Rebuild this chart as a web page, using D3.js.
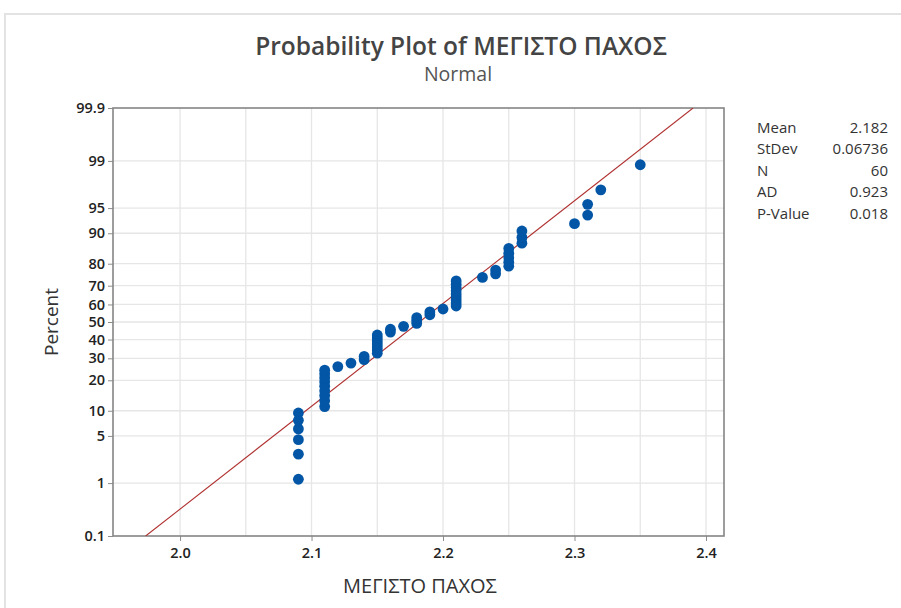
<!DOCTYPE html>
<html>
<head>
<meta charset="utf-8">
<script src="https://cdn.jsdelivr.net/npm/d3@7"></script>
<style>
  html, body { margin: 0; padding: 0; background: #fff; }
  svg { display: block; font-family: "Open Sans", "Noto Sans", sans-serif; }
</style>
</head>
<body>
<svg id="chart" width="901" height="608"></svg>
<script>
// Observed values (ΜΕΓΙΣΤΟ ΠΑΧΟΣ) and how many times each occurs
const values = [2.09, 2.11, 2.12, 2.13, 2.14, 2.15, 2.16, 2.17, 2.18, 2.19,
                2.20, 2.21, 2.23, 2.24, 2.25, 2.26, 2.30, 2.31, 2.32, 2.35];
const counts = [6, 9, 1, 1, 2, 7, 2, 1, 3, 2,
                1, 9, 1, 2, 5, 3, 1, 2, 1, 1];

// Axis ticks
const percentTicks = [0.1, 1, 5, 10, 20, 30, 40, 50, 60, 70, 80, 90, 95, 99, 99.9];
const xTicks = [2.0, 2.1, 2.2, 2.3, 2.4];
const xGrid = [2.0, 2.05, 2.1, 2.15, 2.2, 2.25, 2.3, 2.35, 2.4];

// Summary table
const statNames = ["Mean", "StDev", "N", "AD", "P-Value"];
const statValues = ["2.182", "0.06736", "60", "0.923", "0.018"];
const mean = 2.182, stdev = 0.06736;

// Inverse standard normal CDF (Acklam's rational approximation)
function probit(p) {
  const a = [-3.969683028665376e+01, 2.209460984245205e+02, -2.759285104469687e+02,
             1.383577518672690e+02, -3.066479806614716e+01, 2.506628277459239e+00];
  const b = [-5.447609879822406e+01, 1.615858368580409e+02, -1.556989798598866e+02,
             6.680131188771972e+01, -1.328068155288572e+01];
  const c = [-7.784894002430293e-03, -3.223964580411365e-01, -2.400758277161838e+00,
             -2.549732539343734e+00, 4.374664141464968e+00, 2.938163982698783e+00];
  const d = [7.784695709041462e-03, 3.224671290700398e-01, 2.445134137142996e+00,
             3.754408661907416e+00];
  const pl = 0.02425;
  let q, r;
  if (p < pl) {
    q = Math.sqrt(-2 * Math.log(p));
    return (((((c[0]*q+c[1])*q+c[2])*q+c[3])*q+c[4])*q+c[5]) /
           ((((d[0]*q+d[1])*q+d[2])*q+d[3])*q+1);
  }
  if (p > 1 - pl) {
    q = Math.sqrt(-2 * Math.log(1 - p));
    return -(((((c[0]*q+c[1])*q+c[2])*q+c[3])*q+c[4])*q+c[5]) /
            ((((d[0]*q+d[1])*q+d[2])*q+d[3])*q+1);
  }
  q = p - 0.5; r = q * q;
  return (((((a[0]*r+a[1])*r+a[2])*r+a[3])*r+a[4])*r+a[5])*q /
         (((((b[0]*r+b[1])*r+b[2])*r+b[3])*r+b[4])*r+1);
}

// Expand to individual observations, ranked, with median-rank plotting positions
const obs = [];
values.forEach((v, i) => { for (let k = 0; k < counts[i]; k++) obs.push(v); });
obs.sort(d3.ascending);
const n = obs.length;
const points = obs.map((v, i) => ({ x: v, z: probit((i + 1 - 0.3) / (n + 0.4)) }));

const svg = d3.select("#chart");
const plot = { left: 113, top: 108, right: 724, bottom: 536 };

const x = d3.scaleLinear().domain([1.949, 2.4137]).range([plot.left, plot.right]);
const y = d3.scaleLinear().domain([probit(0.001), probit(0.999)]).range([plot.bottom, plot.top]);

// Outer panel border
svg.append("path")
  .attr("d", "M5,608 V14 H901")
  .attr("fill", "none").attr("stroke", "#e3e3e3").attr("stroke-width", 2);

// Gridlines
const grid = svg.append("g").attr("stroke", "#e6e6e6").attr("stroke-width", 1.3);
grid.selectAll("line.h").data(percentTicks.slice(1, -1)).join("line")
  .attr("x1", plot.left).attr("x2", plot.right)
  .attr("y1", d => y(probit(d / 100))).attr("y2", d => y(probit(d / 100)));
grid.selectAll("line.v").data(xGrid).join("line")
  .attr("y1", plot.top).attr("y2", plot.bottom)
  .attr("x1", d => x(d)).attr("x2", d => x(d));

// Axes
const yAxis = d3.axisLeft(y)
  .tickValues(percentTicks.map(p => probit(p / 100)))
  .tickFormat((d, i) => String(percentTicks[i]))
  .tickSize(5).tickPadding(3);
const xAxis = d3.axisBottom(x)
  .tickValues(xTicks).tickFormat(d3.format(".1f"))
  .tickSize(5).tickPadding(7);

const gy = svg.append("g").attr("transform", `translate(${plot.left},0)`).call(yAxis);
const gx = svg.append("g").attr("transform", `translate(0,${plot.bottom})`).call(xAxis);
[gx, gy].forEach(g => {
  g.select(".domain").remove();
  g.selectAll(".tick line").attr("stroke", "#8c8c8c");
  g.selectAll(".tick text").attr("fill", "#222")
    .style("font-size", "14.5px").style("font-weight", "600")
    .style("font-family", "'Open Sans', sans-serif");
});

// Frame
svg.append("rect")
  .attr("x", plot.left).attr("y", plot.top)
  .attr("width", plot.right - plot.left).attr("height", plot.bottom - plot.top)
  .attr("fill", "none").attr("stroke", "#858585").attr("stroke-width", 1.6);

// Fitted normal line
svg.append("clipPath").attr("id", "plotClip")
  .append("rect").attr("x", plot.left).attr("y", plot.top)
  .attr("width", plot.right - plot.left).attr("height", plot.bottom - plot.top);
const zLo = probit(0.001), zHi = probit(0.999);
svg.append("line")
  .attr("clip-path", "url(#plotClip)")
  .attr("x1", x(mean + zLo * stdev)).attr("y1", y(zLo))
  .attr("x2", x(mean + zHi * stdev)).attr("y2", y(zHi))
  .attr("stroke", "#b03030").attr("stroke-width", 1.1);

// Observations
svg.append("g").selectAll("circle").data(points).join("circle")
  .attr("cx", d => x(d.x)).attr("cy", d => y(d.z))
  .attr("r", 5.4).attr("fill", "#0356a5");

// Titles
svg.append("text").attr("x", 461).attr("y", 55).attr("text-anchor", "middle")
  .style("font-size", "24.5px").style("font-weight", "600").attr("fill", "#444")
  .text("Probability Plot of ΜΕΓΙΣΤΟ ΠΑΧΟΣ");
svg.append("text").attr("x", 458).attr("y", 81).attr("text-anchor", "middle")
  .style("font-size", "19.5px").attr("fill", "#555")
  .text("Normal");
svg.append("text").attr("x", 420).attr("y", 593).attr("text-anchor", "middle")
  .style("font-size", "20px").attr("fill", "#333")
  .text("ΜΕΓΙΣΤΟ ΠΑΧΟΣ");
svg.append("text")
  .attr("transform", `translate(58,${(plot.top + plot.bottom) / 2}) rotate(-90)`)
  .attr("text-anchor", "middle")
  .style("font-size", "19px").attr("fill", "#333")
  .text("Percent");

// Summary statistics
const stats = svg.append("g").style("font-size", "15px").attr("fill", "#333");
stats.selectAll("text.name").data(statNames).join("text")
  .attr("x", 757).attr("y", (d, i) => 133 + i * 21.4).text(d => d);
stats.selectAll("text.val").data(statValues).join("text")
  .attr("x", 888).attr("y", (d, i) => 133 + i * 21.4)
  .attr("text-anchor", "end").text(d => d);
</script>
</body>
</html>
